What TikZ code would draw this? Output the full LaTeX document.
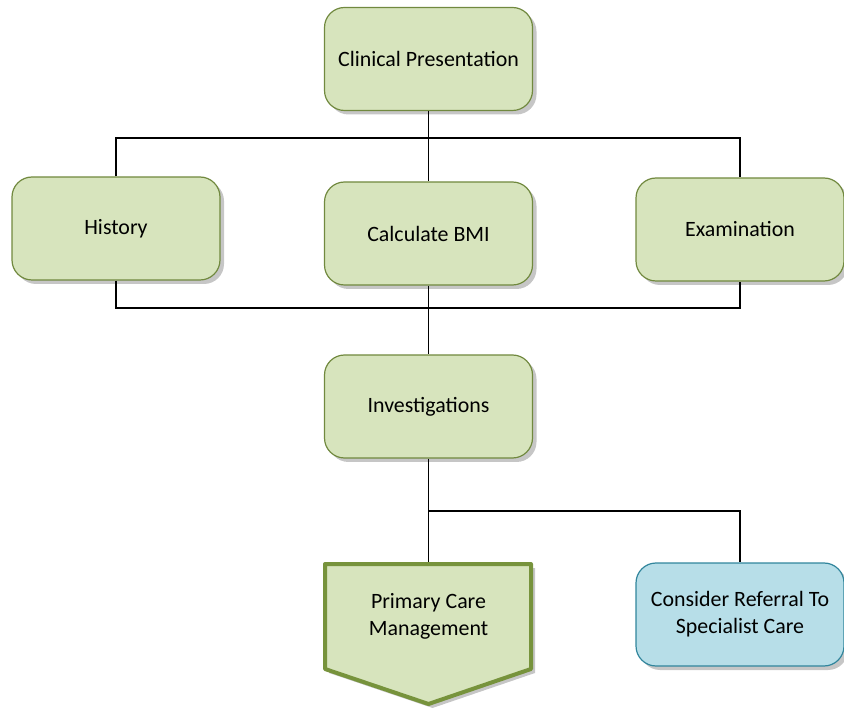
\documentclass[tikz,border=0pt]{standalone}
\usepackage{fontspec}
\setmainfont{Carlito}
\usetikzlibrary{shadows, math}
\definecolor{boxgreen}{HTML}{D7E4BD}
\definecolor{edgegreen}{HTML}{71893F}
\definecolor{darkgreen}{HTML}{77933C}
\definecolor{boxblue}{HTML}{B7DEE8}
\definecolor{edgeblue}{HTML}{31859C}

\begin{document}
\begin{tikzpicture}[x=1pt, y=-1pt,
  box/.style={draw=edgegreen, fill=boxgreen, line width=1.2pt, rounded corners=20pt,
    minimum width=208pt, minimum height=103pt, align=center,
    font=\fontsize{21.9}{27}\selectfont,
    drop shadow={shadow xshift=4pt, shadow yshift=-4pt, opacity=0.45}},
  link/.style={line width=1.8pt}]
\tikzmath{
\xl=116; \xm=428.5; \xr=740;
}
\useasboundingbox (0,0) rectangle (844,708);

% first row and second row
\node[box] (clin) at (\xm,59) {Clinical Presentation};
\node[box] (hist) at (\xl,228.5) {History};
\node[box] (bmi) at (\xm,233.5) {Calculate BMI};
\node[box] (exam) at (\xr,229.5) {Examination};
\node[box] (inv) at (\xm,406.5) {Investigations};
\node[box, draw=edgeblue, fill=boxblue] (spec) at (\xr,614.5) {Consider Referral To\\Specialist Care};

% arrow shaped box
\filldraw[line width=4pt, draw=darkgreen, fill=boxgreen, line join=round,
  drop shadow={shadow xshift=4pt, shadow yshift=-4pt, opacity=0.45}]
  (325,564) -- (531,564) -- (531,669) -- (\xm,704) -- (325,669) -- cycle;
\node[align=center, font=\fontsize{21.9}{27}\selectfont] (pcm) at (\xm,616) {Primary Care\\Management};
\coordinate (pcmtop) at (\xm,562);

\coordinate (topbar) at (\xm,138);
\coordinate (lowbar) at (\xm,308);
\coordinate (split) at (\xm,511);

\draw[link] (clin.south) -- (bmi.north);
\draw[link] (hist.north) |- (topbar) -| (exam.north);
\draw[link] (hist.south) |- (lowbar) -| (exam.south);
\draw[link] (bmi.south) -- (inv.north);
\draw[link] (inv.south) -- (pcmtop);
\draw[link] (split) -| (spec.north);

\end{tikzpicture}
\end{document}
